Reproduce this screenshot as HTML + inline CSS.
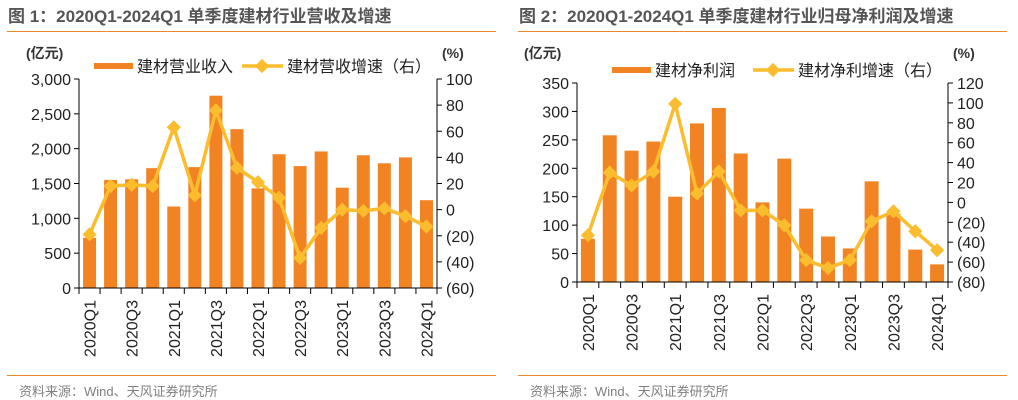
<!DOCTYPE html>
<html><head><meta charset="utf-8"><style>
html,body{margin:0;padding:0;background:#fff;}
svg{display:block;font-family:"Liberation Sans","Noto Sans CJK SC",sans-serif;}
</style></head><body>
<svg id="s" width="1018" height="400" xmlns="http://www.w3.org/2000/svg"></svg>
<script>
const s=document.getElementById('s');let h='';
const cats=['2020Q1','2020Q2','2020Q3','2020Q4','2021Q1','2021Q2','2021Q3','2021Q4','2022Q1','2022Q2','2022Q3','2022Q4','2023Q1','2023Q2','2023Q3','2023Q4','2024Q1'];
function chart(o){
 const {x0,x1,y0,y1,lmax,lstep,rmin,rmax,rstep,bars,line,bw,title,tx,lg,src}=o;
 h+=`<text x="${tx}" y="22" font-size="17" font-weight="bold" fill="#555">${title}</text>`;
 h+=`<line x1="${tx-1}" y1="31.5" x2="${tx+488}" y2="31.5" stroke="#e8892d" stroke-width="1"/>`;
 h+=`<line x1="${tx-1}" y1="375.5" x2="${tx+488}" y2="375.5" stroke="#e8892d" stroke-width="1"/>`;
 h+=`<text x="${tx+11}" y="396" font-size="13" fill="#7f7f7f">资料来源：Wind、天风证券研究所</text>`;
 h+=`<text x="${x0-53}" y="58" font-size="14" font-weight="bold" fill="#333">(亿元)</text>`;
 h+=`<text x="${x1+5}" y="58" font-size="14" font-weight="bold" fill="#333">(%)</text>`;
 const n=17,cw=(x1-x0)/n;
 const yl=v=>y1-(v/lmax)*(y1-y0), yr=v=>y1-(v-rmin)/(rmax-rmin)*(y1-y0);
 bars.forEach((v,i)=>{const cx=x0+cw*(i+.5);h+=`<rect x="${cx-bw/2}" y="${yl(v)}" width="${bw}" height="${y1-yl(v)}" fill="#f28322"/>`;});
 h+=`<line x1="${x0}" y1="${y0}" x2="${x0}" y2="${y1}" stroke="#000"/><line x1="${x1}" y1="${y0}" x2="${x1}" y2="${y1}" stroke="#000"/>`;
 h+=`<line x1="${x0-5}" y1="${y1}" x2="${x1+5}" y2="${y1}" stroke="#000"/>`;
 for(let v=0;v<=lmax;v+=lstep){const y=yl(v);h+=`<line x1="${x0-5}" y1="${y}" x2="${x0}" y2="${y}" stroke="#000"/><text x="${x0-8}" y="${y+6}" font-size="16" text-anchor="end" fill="#222">${v.toLocaleString('en-US')}</text>`;}
 for(let v=rmin;v<=rmax;v+=rstep){const y=yr(v);h+=`<line x1="${x1}" y1="${y}" x2="${x1+5}" y2="${y}" stroke="#000"/><text x="${x1+9}" y="${y+6}" font-size="16" fill="#222">${v<0?'('+(-v)+')':v}</text>`;}
 for(let i=0;i<=n;i++){const x=x0+cw*i;h+=`<line x1="${x}" y1="${y1}" x2="${x}" y2="${y1+6}" stroke="#000"/>`;}
 for(let i=0;i<n;i+=2){const cx=x0+cw*(i+.5)+6;h+=`<text transform="translate(${cx},${y1+12}) rotate(-90)" font-size="16" text-anchor="end" fill="#222">${cats[i]}</text>`;}
 const pts=line.map((v,i)=>[x0+cw*(i+.5),yr(v)]);
 h+=`<polyline points="${pts.map(p=>p.join(',')).join(' ')}" fill="none" stroke="#fbbd2d" stroke-width="3.5" stroke-linejoin="round"/>`;
 pts.forEach(p=>h+=`<rect x="${p[0]-5}" y="${p[1]-5}" width="10" height="10" fill="#fbbd2d" transform="rotate(45 ${p[0]} ${p[1]})"/>`);
 h+=`<rect x="${lg[0]}" y="${lg[1]-3}" width="39" height="6" fill="#f28322"/><text x="${lg[0]+43}" y="${lg[1]+6}" font-size="16" fill="#222">${lg[2]}</text>`;
 h+=`<line x1="${lg[3]}" y1="${lg[1]}" x2="${lg[3]+41}" y2="${lg[1]}" stroke="#fbbd2d" stroke-width="3.5"/><rect x="${lg[3]+15}" y="${lg[1]-5}" width="10" height="10" fill="#fbbd2d" transform="rotate(45 ${lg[3]+20} ${lg[1]})"/><text x="${lg[3]+45}" y="${lg[1]+6}" font-size="16" fill="#222">${lg[4]}</text>`;
}
chart({x0:79,x1:437,y0:79,y1:288,lmax:3000,lstep:500,rmin:-60,rmax:100,rstep:20,bw:13,tx:8,
 title:'图 1：2020Q1-2024Q1 单季度建材行业营收及增速',
 bars:[720,1550,1560,1720,1170,1735,2760,2280,1430,1920,1750,1960,1440,1905,1790,1875,1260],
 line:[-19,18,19,18,63,11,76,32,21,9,-37,-14,0,-1,1,-5,-13],
 lg:[94,66,'建材营业收入',242,'建材营收增速（右）']});
chart({x0:577,x1:948,y0:83,y1:282,lmax:350,lstep:50,rmin:-80,rmax:120,rstep:20,bw:14,tx:519,
 title:'图 2：2020Q1-2024Q1 单季度建材行业归母净利润及增速',
 bars:[76,258,231,247,150,279,306,226,140,217,129,80,59,177,120,57,31],
 line:[-33,30,17,31,99,9,31,-8,-8,-23,-58,-66,-58,-19,-9,-29,-48],
 lg:[612,70,'建材净利润',753,'建材净利增速（右）']});
s.innerHTML=h;
</script>
</body></html>
